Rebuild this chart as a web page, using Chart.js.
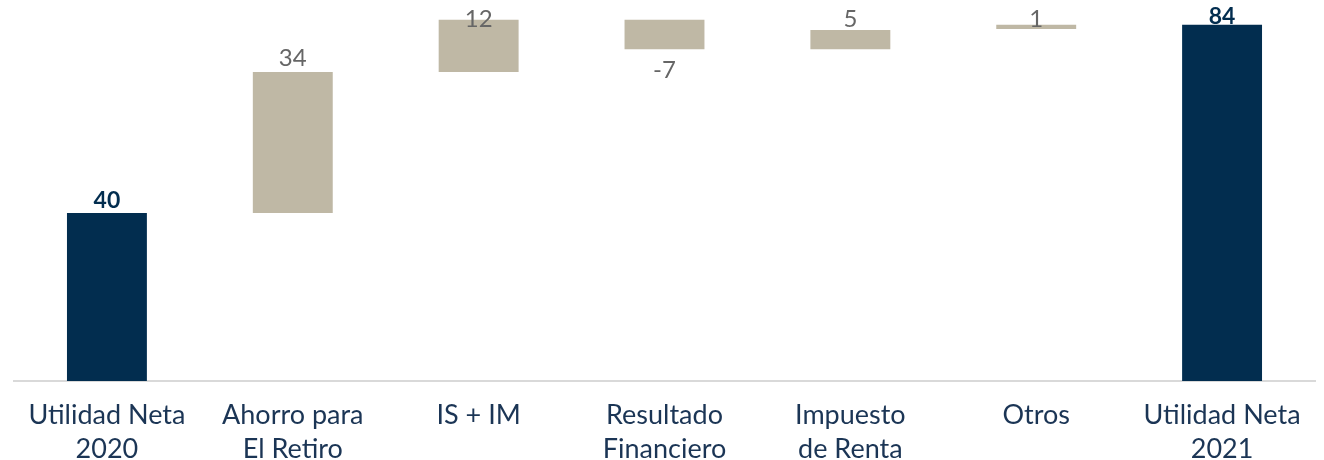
<!DOCTYPE html>
<html>
<head>
  <title>Utilidad Neta 2020 - 2021</title>
  <script src="https://cdn.jsdelivr.net/npm/chart.js"></script>
  <style>
    html, body { margin: 0; padding: 0; background: #fff; }
    #wrap { width: 1324px; height: 460px; }
  </style>
</head>
<body>
<div id="wrap"><canvas id="myChart"></canvas></div>

<script>
// categories
var labels = [
  ['Utilidad Neta', '2020'],
  ['Ahorro para', 'El Retiro'],
  'IS + IM',
  ['Resultado', 'Financiero'],
  ['Impuesto', 'de Renta'],
  'Otros',
  ['Utilidad Neta', '2021']
];
// value shown on each bar
var shown = [40, 34, 12, -7, 5, 1, 84];
// where each bar starts and ends
var barStart = [0, 40, 73.6, 86, 79, 83.8, 0];
var barEnd = [40, 73.6, 86, 79, 83.6, 84.8, 84.8];
// total bars vs. step bars
var isTotal = [true, false, false, false, false, false, true];

var navy = '#022d4f';
var beige = '#bfb8a5';

var ranges = barStart.map(function(s, i) { return [s, barEnd[i]]; });

// draws the numbers over/under the bars
var valueLabels = {
  id: 'valueLabels',
  afterDatasetsDraw: function(chart) {
    var ctx = chart.ctx;
    var y = chart.scales.y;
    var meta = chart.getDatasetMeta(0);
    ctx.save();
    ctx.textAlign = 'center';
    ctx.textBaseline = 'alphabetic';
    meta.data.forEach(function(bar, i) {
      var v = shown[i];
      var top = y.getPixelForValue(Math.max(barStart[i], barEnd[i]));
      var bottom = y.getPixelForValue(Math.min(barStart[i], barEnd[i]));
      if (isTotal[i]) {
        ctx.font = 'bold 23px Lato';
        ctx.fillStyle = navy;
        ctx.fillText(String(v), bar.x, Math.max(top - 5, 24));
      } else if (v < 0) {
        ctx.font = '24px Lato';
        ctx.fillStyle = '#666666';
        ctx.fillText(String(v), bar.x, bottom + 29);
      } else {
        ctx.font = '24px Lato';
        ctx.fillStyle = '#666666';
        ctx.fillText(String(v), bar.x, Math.max(top - 6, 27));
      }
    });
    ctx.restore();
  }
};

var ctx = document.getElementById('myChart').getContext('2d');
var chart = new Chart(ctx, {
  type: 'bar',
  data: {
    labels: labels,
    datasets: [{
      data: ranges,
      backgroundColor: isTotal.map(function(t) { return t ? navy : beige; }),
      borderWidth: 0,
      categoryPercentage: 1,
      barPercentage: 0.43
    }]
  },
  options: {
    responsive: true,
    maintainAspectRatio: false,
    animation: false,
    layout: { padding: { left: 14, right: 9, top: 3, bottom: 0 } },
    plugins: {
      legend: { display: false },
      tooltip: { enabled: false }
    },
    scales: {
      y: {
        display: false,
        min: 0,
        max: 90
      },
      x: {
        afterFit: function(scale) { scale.height = 79; },
        grid: { display: false, drawTicks: false },
        border: { display: true, color: '#d9d9d9', width: 2 },
        ticks: {
          color: '#1b3555',
          font: { family: 'Lato', size: 27, lineHeight: 1.26 },
          padding: 17,
          maxRotation: 0,
          autoSkip: false
        }
      }
    }
  },
  plugins: [valueLabels]
});
</script>
</body>
</html>
